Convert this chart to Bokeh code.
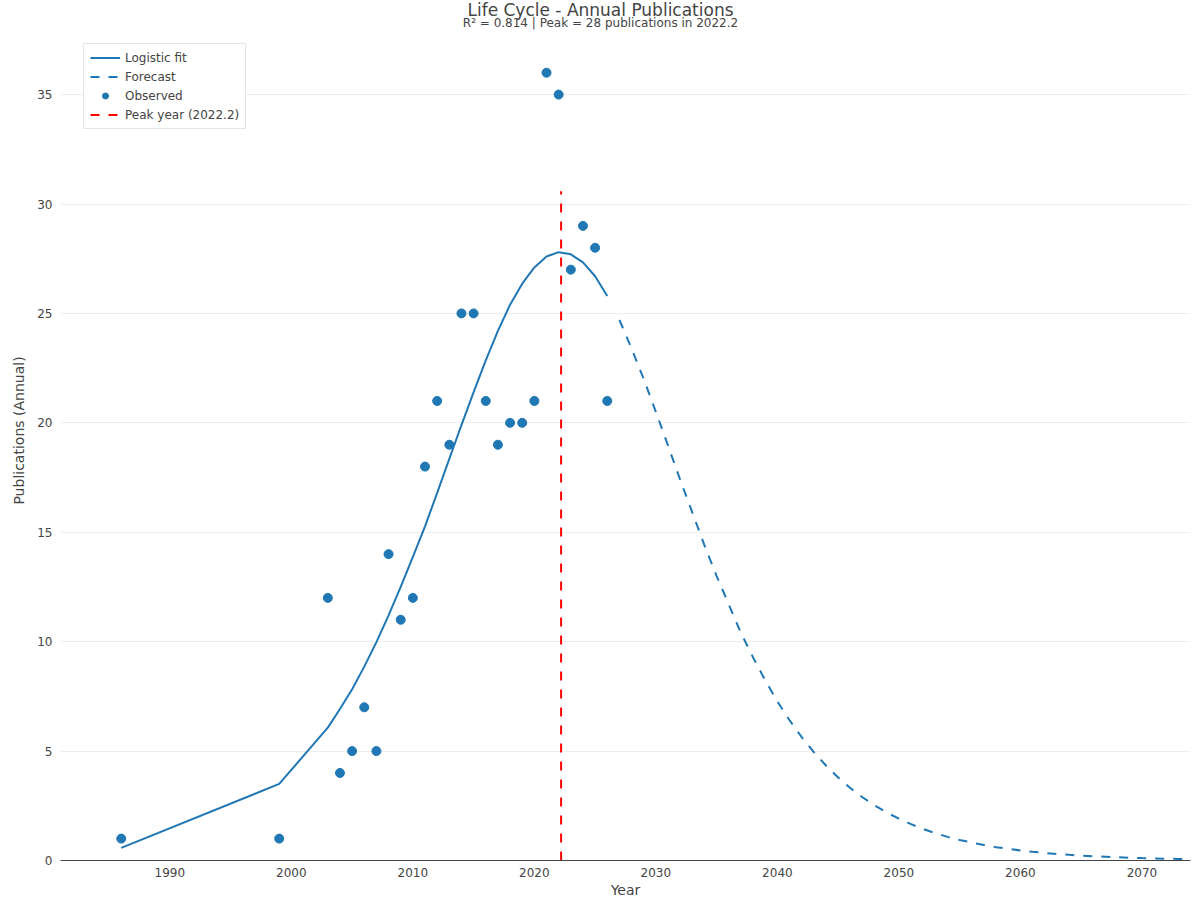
from bokeh.plotting import figure
from bokeh.models import (Legend, LegendItem, FixedTicker, Range1d, Label)
from bokeh.embed import file_html
from bokeh.resources import INLINE

# ---------------- data ----------------
obs_years = [1986, 1999, 2003, 2004, 2005, 2006, 2007, 2008, 2009, 2010, 2011,
             2012, 2013, 2014, 2015, 2016, 2017, 2018, 2019, 2020, 2021, 2022,
             2023, 2024, 2025, 2026]
obs_pubs = [1, 1, 12, 4, 5, 7, 5, 14, 11, 12, 18, 21, 19, 25, 25, 21, 19, 20,
            20, 21, 36, 35, 27, 29, 28, 21]
fit_pubs = [0.58, 3.5, 6.07, 6.92, 7.83, 8.86, 9.98, 11.2, 12.5, 13.87, 15.27,
            16.8, 18.35, 19.9, 21.4, 22.85, 24.2, 25.4, 26.36, 27.1, 27.6, 27.8,
            27.7, 27.33, 26.7, 25.8]
forecast_years = list(range(2027, 2075))
forecast_pubs = [24.7, 23.4, 22.0, 20.5, 18.96, 17.4, 15.9, 14.4, 13.0, 11.7,
                 10.4, 9.28, 8.23, 7.27, 6.41, 5.64, 4.95, 4.34, 3.79, 3.31,
                 2.89, 2.52, 2.19, 1.91, 1.66, 1.44, 1.25, 1.08, 0.94, 0.82,
                 0.71, 0.61, 0.53, 0.46, 0.40, 0.345, 0.30, 0.26, 0.225, 0.195,
                 0.17, 0.146, 0.127, 0.11, 0.095, 0.082, 0.071, 0.062]
peak_year = 2022.2
peak_value = 27.8
r_squared = 0.814
x_ticks = [1990, 2000, 2010, 2020, 2030, 2040, 2050, 2060, 2070]
y_ticks = [0, 5, 10, 15, 20, 25, 30, 35]

BLUE = "#1f77b4"
TXT = "#444444"
FONT = "DejaVu Sans"

# the frame reaches the top of the canvas; the title area is empty plot space
p = figure(width=1200, height=900, output_backend="svg", toolbar_location=None,
           x_range=Range1d(1981, 2074), y_range=Range1d(0, 39.3),
           min_border_left=60, min_border_right=10, min_border_top=0,
           min_border_bottom=40, background_fill_color="white",
           border_fill_color="white")
p.outline_line_color = None
p.title_location = None

# axes
p.xaxis.ticker = FixedTicker(ticks=x_ticks)
p.yaxis.ticker = FixedTicker(ticks=y_ticks)
for ax in (p.xaxis[0], p.yaxis[0]):
    ax.major_tick_line_color = None
    ax.minor_tick_line_color = None
    ax.major_label_text_font = FONT
    ax.major_label_text_font_size = "12px"
    ax.major_label_text_color = TXT
    ax.axis_label_text_font = FONT
    ax.axis_label_text_font_size = "14px"
    ax.axis_label_text_font_style = "normal"
    ax.axis_label_text_color = TXT
p.xaxis.axis_label = "Year"
p.yaxis.axis_label = "Publications (Annual)"
p.xaxis.axis_line_color = TXT
p.xaxis.axis_line_width = 1
p.yaxis.axis_line_color = None
p.xaxis.major_label_standoff = 1
p.xaxis.axis_label_standoff = 2
p.yaxis.major_label_standoff = 2
p.yaxis.axis_label_standoff = 7

p.xgrid.grid_line_color = None
p.ygrid.grid_line_color = "#eeeeee"
p.ygrid.grid_line_width = 1

# glyphs
r_fit = p.line(obs_years, fit_pubs, line_color=BLUE, line_width=2)
r_fc = p.line(forecast_years, forecast_pubs, line_color=BLUE, line_width=2,
              line_dash="9 9")
r_obs = p.scatter(obs_years, obs_pubs, size=9, fill_color=BLUE,
                  line_color=BLUE, marker="circle")
r_peak = p.line([peak_year, peak_year], [0, peak_value * 1.1], line_color="red",
                line_width=2, line_dash="9 9")

legend = Legend(items=[
    LegendItem(label="Logistic fit", renderers=[r_fit]),
    LegendItem(label="Forecast", renderers=[r_fc]),
    LegendItem(label="Observed", renderers=[r_obs]),
    LegendItem(label="Peak year (%.1f)" % peak_year, renderers=[r_peak]),
], location=(23, 731))
legend.label_text_font = FONT
legend.label_text_font_size = "12px"
legend.label_text_color = TXT
legend.border_line_color = "#cccccc"
legend.border_line_width = 1
legend.background_fill_color = "white"
legend.background_fill_alpha = 1.0
legend.glyph_width = 30
legend.glyph_height = 15
legend.label_height = 15
legend.spacing = 4
legend.padding = 6
legend.margin = 0
legend.label_standoff = 5
p.add_layout(legend, "center")

# titles, centred on the page (screen units from the frame's bottom-left)
p.add_layout(Label(x=540, y=851, x_units="screen", y_units="screen",
                   text="Life Cycle - Annual Publications", text_align="center",
                   text_baseline="middle", text_font=FONT,
                   text_font_size="17px", text_color=TXT))
p.add_layout(Label(x=540, y=838, x_units="screen", y_units="screen",
                   text="R² = %.3f | Peak = %d publications in %.1f" % (
                       r_squared, round(peak_value), peak_year),
                   text_align="center", text_baseline="middle", text_font=FONT,
                   text_font_size="12px", text_color=TXT))

open("out.html", "w").write(file_html(p, INLINE))
